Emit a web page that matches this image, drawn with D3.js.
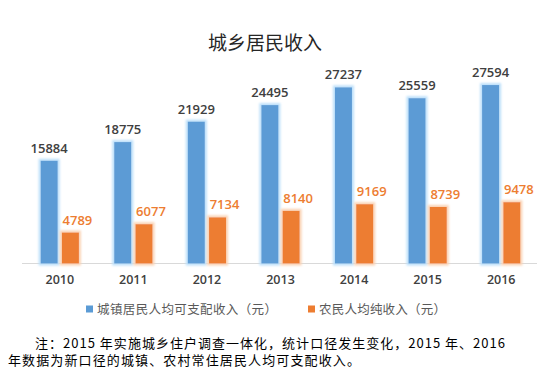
<!DOCTYPE html>
<html><head><meta charset="utf-8">
<script src="https://cdn.jsdelivr.net/npm/d3@7"></script>
<style>body{margin:0;background:#fff}</style>
</head><body>
<svg id="c" width="550" height="380"></svg>
<script>
const years = ["2010","2011","2012","2013","2014","2015","2016"];
const urban = [15884,18775,21929,24495,27237,25559,27594];
const rural = [4789,6077,7134,8140,9169,8739,9478];
const seriesNames = ["城镇居民人均可支配收入（元）","农民人均纯收入（元）"];
const title = "城乡居民收入";
const note1 = "注：2015 年实施城乡住户调查一体化，统计口径发生变化，2015 年、2016";
const note2 = "年数据为新口径的城镇、农村常住居民人均可支配收入。";

const colors = ["#5B9BD5","#ED7D31"];
const glows = ["#BDE0FA","#FAD3B5"];
const svg = d3.select("#c");
const defs = svg.append("defs");
colors.forEach((c,i)=>{
  const f = defs.append("filter").attr("id","g"+i).attr("x","-50%").attr("y","-50%").attr("width","200%").attr("height","200%");
  f.append("feMorphology").attr("in","SourceAlpha").attr("operator","dilate").attr("radius",1.5).attr("result","d");
  f.append("feGaussianBlur").attr("in","d").attr("stdDeviation",1).attr("result","b");
  f.append("feFlood").attr("flood-color",glows[i]);
  f.append("feComposite").attr("in2","b").attr("operator","in").attr("result","gl");
  const m = f.append("feMerge");
  m.append("feMergeNode").attr("in","gl");
  m.append("feMergeNode").attr("in","SourceGraphic");
});

const x0 = d3.scaleBand().domain(years).range([23,538]).paddingInner(0.48).paddingOuter(0.24);
const x1 = d3.scaleBand().domain([0,1]).range([0,x0.bandwidth()]).paddingInner(0.2);
const y = d3.scaleLinear().domain([0,30000]).range([263.5,69.5]);

svg.append("text").attr("x",265).attr("y",49.5).attr("text-anchor","middle")
  .attr("font-family","'Noto Sans CJK SC'").attr("font-size",19).attr("fill","#262626").text(title);

svg.append("line").attr("x1",22).attr("x2",537).attr("y1",263.5).attr("y2",263.5)
  .attr("stroke","#D9D9D9").attr("stroke-width",1);

const data = [urban, rural];
data.forEach((arr,si)=>{
  const g = svg.append("g");
  g.selectAll("rect").data(arr).join("rect")
    .attr("x",(d,i)=>x0(years[i])+x1(si))
    .attr("y",d=>y(d))
    .attr("width",x1.bandwidth())
    .attr("height",d=>y(0)-y(d))
    .attr("fill",colors[si])
    .attr("filter","url(#g"+si+")");
  g.selectAll("text").data(arr).join("text")
    .attr("x",(d,i)=>x0(years[i])+x1(si)+x1.bandwidth()/2+(si?7:0))
    .attr("y",d=>y(d)-8)
    .attr("text-anchor","middle")
    .attr("font-family","'Open Sans', 'Liberation Sans', sans-serif")
    .attr("font-weight",600)
    .attr("font-size",13)
    .attr("fill",si?"#ED7D31":"#404040")
    .text(d=>d);
});

const xAxis = svg.append("g").attr("transform","translate(0,263.5)")
  .call(d3.axisBottom(x0).tickSize(0).tickPadding(12));
xAxis.select(".domain").remove();
xAxis.selectAll("text").attr("font-family","'Open Sans', 'Liberation Sans', sans-serif")
  .attr("font-size",12.5).attr("font-weight",600).attr("fill","#404040");

const leg = [{x:86,t:seriesNames[0],w:180},{x:308,t:seriesNames[1],w:127}];
leg.forEach((l,i)=>{
  svg.append("rect").attr("x",l.x).attr("y",305.5).attr("width",7).attr("height",7).attr("fill",colors[i]);
  svg.append("text").attr("x",l.x+11).attr("y",313.5).attr("font-family","'Noto Sans CJK SC'")
    .attr("font-size",12.5).attr("fill","#595959").attr("textLength",l.w).attr("lengthAdjust","spacing").text(l.t);
});

svg.append("text").attr("x",35).attr("y",347.5).attr("font-family","'Noto Sans CJK SC'")
  .attr("font-size",13).attr("fill","#000").attr("textLength",470).attr("lengthAdjust","spacing").text(note1);
svg.append("text").attr("x",8).attr("y",364.5).attr("font-family","'Noto Sans CJK SC'")
  .attr("font-size",13).attr("fill","#000").attr("textLength",352).attr("lengthAdjust","spacing").text(note2);
</script>
</body></html>
